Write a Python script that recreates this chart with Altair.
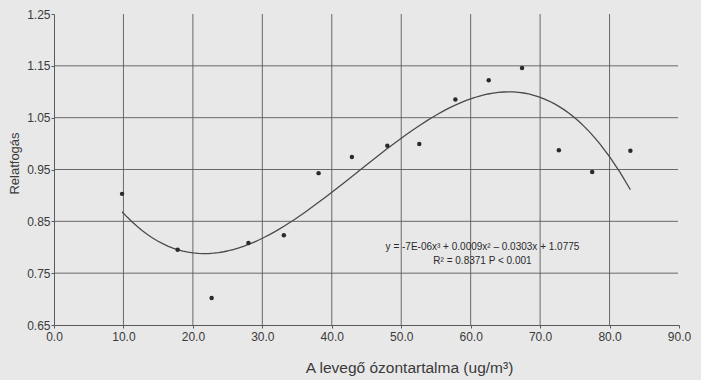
import altair as alt
import pandas as pd

# data points
ozone = [9.8, 17.8, 22.7, 28.0, 33.1, 38.1, 42.9, 48.0, 52.6, 57.8, 62.6, 67.4, 72.7, 77.5, 83.0]
catch = [0.903, 0.795, 0.702, 0.808, 0.823, 0.943, 0.974, 0.996, 0.999, 1.085, 1.122, 1.146, 0.987, 0.945, 0.986]

x_ticks = [0, 10, 20, 30, 40, 50, 60, 70, 80, 90]
y_ticks = [0.65, 0.75, 0.85, 0.95, 1.05, 1.15, 1.25]
x_grid = [10, 20, 30, 40, 50, 60, 70, 80]
y_grid = [0.75, 0.85, 0.95, 1.05, 1.15]

ann_text = ["y = -7E-06x\u00b3 + 0.0009x\u00b2 \u2013 0.0303x + 1.0775", "R\u00b2 = 0.8371 P < 0.001"]
ann_x = [61.7, 61.7]
ann_y = [0.800, 0.773]

df = pd.DataFrame({"x": ozone, "y": catch})
gx = pd.DataFrame({"x": x_grid})
gy = pd.DataFrame({"y": y_grid})
ann = pd.DataFrame({"t": ann_text, "x": ann_x, "y": ann_y})

FONT = "Liberation Sans"
INK = "#3a3a3a"
LINE = "#5a5a5a"

xscale = alt.Scale(domain=[0, 90], nice=False)
yscale = alt.Scale(domain=[0.65, 1.25], nice=False, zero=False)

xaxis = alt.Axis(values=x_ticks, format=".1f", grid=False, tickSize=3, labelPadding=3,
                 title="A levegő ózontartalma (ug/m\u00b3)", titleX=355, titleY=47,
                 titleBaseline="alphabetic", titleFontSize=15.5, titleFontWeight="normal",
                 labelFontSize=12, labelColor=INK, titleColor=INK,
                 domainColor=LINE, tickColor=LINE, labelFlush=False)
yaxis = alt.Axis(values=y_ticks, format=".2f", grid=False, tickSize=3, labelPadding=1,
                 title="Relatfogás", titleX=-33, titleY=149, titleFontSize=13,
                 titleFontWeight="normal", labelFontSize=12, labelColor=INK, titleColor=INK,
                 domainColor=LINE, tickColor=LINE, labelFlush=False)

points = alt.Chart(df).mark_circle(size=20, color="#2a2a2a", opacity=1).encode(
    x=alt.X("x:Q", scale=xscale, axis=xaxis),
    y=alt.Y("y:Q", scale=yscale, axis=yaxis),
)

vgrid = alt.Chart(gx).mark_rule(color=LINE, strokeWidth=0.9).encode(
    x=alt.X("x:Q", scale=xscale), y=alt.value(0), y2=alt.value(311)
)
hgrid = alt.Chart(gy).mark_rule(color=LINE, strokeWidth=0.9).encode(
    y=alt.Y("y:Q", scale=yscale), x=alt.value(0), x2=alt.value(624)
)

trend = alt.Chart(df).transform_regression("x", "y", method="poly", order=3).mark_line(
    color="#4a4a4a", strokeWidth=1.3
).encode(x=alt.X("x:Q", scale=xscale), y=alt.Y("y:Q", scale=yscale))

labels = alt.Chart(ann).mark_text(font=FONT, fontSize=10, color="#2a2a2a", align="center").encode(
    x=alt.X("x:Q", scale=xscale), y=alt.Y("y:Q", scale=yscale), text="t:N"
)

chart = alt.layer(vgrid, hgrid, trend, points, labels).properties(
    width=625, height=311,
    autosize=alt.AutoSizeParams(type="none"),
    padding={"left": 54, "top": 14, "right": 22, "bottom": 55},
    background="#e8e8e9",
).configure_view(stroke=None).configure_axis(labelFont=FONT, titleFont=FONT)

chart.save("out.html", embed_options={"renderer": "svg", "actions": False})
